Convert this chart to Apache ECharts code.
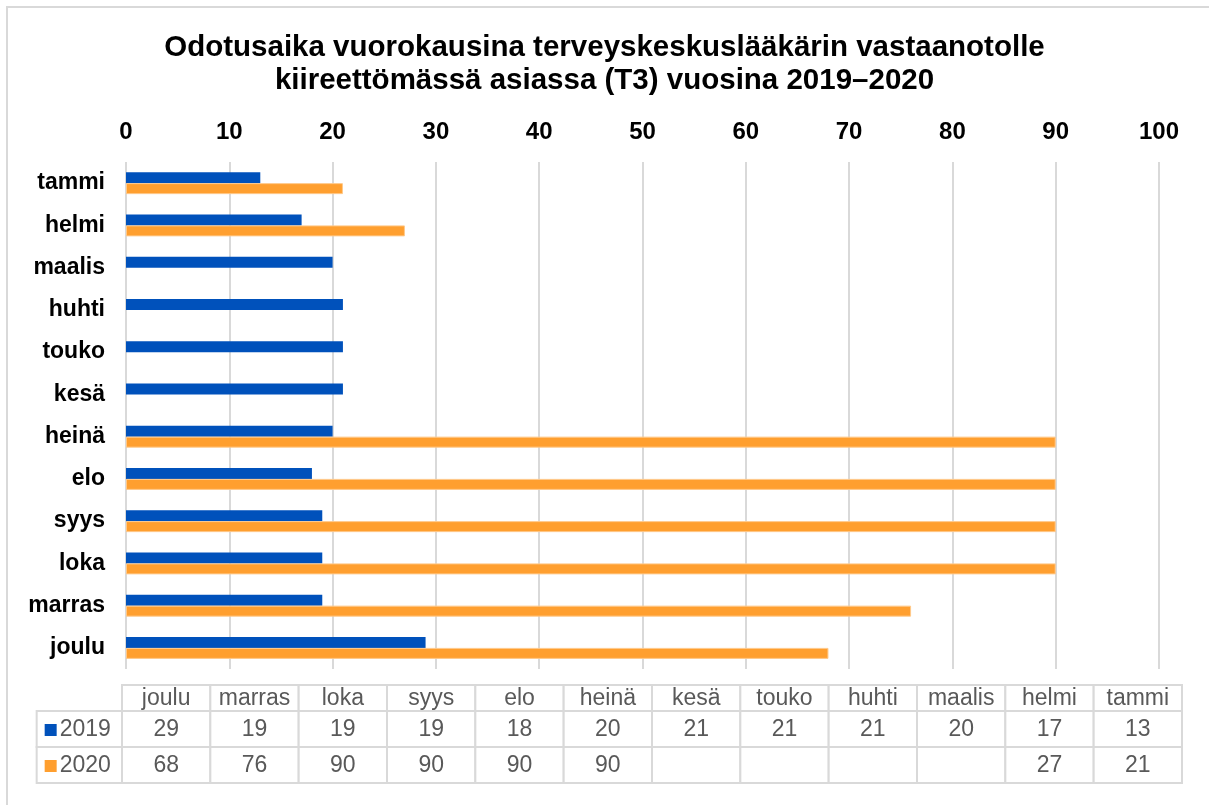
<!DOCTYPE html>
<html>
<head>
<meta charset="utf-8">
<title>Odotusaika T3</title>
<script src="https://cdn.jsdelivr.net/npm/echarts@6/dist/echarts.min.js"></script>
<style>
    html, body { margin: 0; padding: 0; background: #fff; }
    #chart { width: 1209px; height: 805px; }
</style>
</head>
<body>
<div id="chart"></div>
<script>
    // kuukaudet ylhäältä alas
    var months = ['tammi', 'helmi', 'maalis', 'huhti', 'touko', 'kesä', 'heinä', 'elo', 'syys', 'loka', 'marras', 'joulu'];
    var seriesNames = ['2019', '2020'];
    var values2019 = [13, 17, 20, 21, 21, 21, 20, 18, 19, 19, 19, 29];
    var values2020 = [21, 27, null, null, null, null, 90, 90, 90, 90, 76, 68];
    var xTicks = [0, 10, 20, 30, 40, 50, 60, 70, 80, 90, 100];
    var colors = ['#0051BB', '#FF9F2F'];

    // taulukko on käänteisessä järjestyksessä (joulu -> tammi)
    var tableMonths = months.slice().reverse();
    var tableRows = [values2019.slice().reverse(), values2020.slice().reverse()];

    var font = '"Liberation Sans", Arial, sans-serif';
    var border = '#d9d9d9';

    var headerData = tableMonths.map(function (m, i) { return [i, 0]; });
    var rowData = [];
    tableRows.forEach(function (row, r) {
        row.forEach(function (v, c) { rowData.push([c, r]); });
    });

    function cellRect(x, y, w, h) {
        return {
            type: 'rect',
            shape: { x: x, y: y, width: w, height: h },
            style: { fill: '#fff', stroke: border, lineWidth: 2 }
        };
    }
    function cellText(x, y, text) {
        return {
            type: 'text', x: x, y: y,
            style: { text: text, fill: '#595959', font: '23px ' + font, align: 'center', verticalAlign: 'middle' }
        };
    }

    function renderHeader(params, api) {
        var c = api.coord([api.value(0), api.value(1)]);
        var s = api.size([1, 1]);
        return {
            type: 'group',
            children: [
                cellRect(c[0] - s[0] / 2, c[1] - s[1] / 2, s[0], s[1]),
                cellText(c[0], c[1] + 1, tableMonths[api.value(0)])
            ]
        };
    }

    function renderRow(params, api) {
        var col = api.value(0), row = api.value(1);
        var c = api.coord([col, row]);
        var s = api.size([1, 1]);
        var v = tableRows[row][col];
        var children = [
            cellRect(c[0] - s[0] / 2, c[1] - s[1] / 2, s[0], s[1]),
            cellText(c[0], c[1] + 1, v == null ? '' : String(v))
        ];
        if (col === 0) {
            // selitesarake vasemmalla
            var lx = c[0] - s[0] * 1.5 + 3;
            var lw = s[0] - 3;
            children.push(cellRect(lx, c[1] - s[1] / 2, lw, s[1]));
            children.push({
                type: 'rect',
                shape: { x: lx + 8, y: c[1] - 5, width: 12, height: 12 },
                style: { fill: colors[row] }
            });
            children.push({
                type: 'text', x: lx + 23, y: c[1] + 1,
                style: { text: seriesNames[row], fill: '#595959', font: '23px ' + font, align: 'left', verticalAlign: 'middle' }
            });
        }
        return { type: 'group', children: children };
    }

    var chart = echarts.init(document.getElementById('chart'));
    var option = {
        animation: false,
        backgroundColor: '#fff',
        title: {
            text: 'Odotusaika vuorokausina terveyskeskuslääkärin vastaanotolle\nkiireettömässä asiassa (T3) vuosina 2019\u20132020',
            left: 'center',
            top: 26,
            textStyle: { fontFamily: font, fontSize: 29.5, fontWeight: 'bold', color: '#000', lineHeight: 33 }
        },
        graphic: [{
            type: 'rect',
            shape: { x: 7, y: 7, width: 1212, height: 810 },
            style: { fill: 'none', stroke: border, lineWidth: 2 },
            silent: true
        }],
        grid: [
            { left: 126, right: 50, top: 162, height: 507 },
            { left: 122, right: 27, top: 685, height: 26 },
            { left: 122, right: 27, top: 711, height: 72 }
        ],
        xAxis: [
            {
                gridIndex: 0,
                type: 'value',
                position: 'top',
                min: xTicks[0],
                max: xTicks[xTicks.length - 1],
                interval: xTicks[1] - xTicks[0],
                axisLine: { show: false },
                axisTick: { show: false },
                splitLine: { lineStyle: { color: border, width: 2 } },
                axisLabel: { fontFamily: font, fontSize: 24, fontWeight: 'bold', color: '#000', margin: 18 }
            },
            { gridIndex: 1, type: 'category', data: tableMonths, show: false },
            { gridIndex: 2, type: 'category', data: tableMonths, show: false }
        ],
        yAxis: [
            {
                gridIndex: 0,
                type: 'category',
                inverse: true,
                data: months,
                axisLine: { show: false },
                axisTick: { show: false },
                axisLabel: { fontFamily: font, fontSize: 23, fontWeight: 'bold', color: '#000', margin: 21 }
            },
            { gridIndex: 1, type: 'category', data: ['kk'], show: false },
            { gridIndex: 2, type: 'category', data: seriesNames, inverse: true, show: false }
        ],
        series: [
            {
                name: seriesNames[0],
                type: 'bar',
                xAxisIndex: 0, yAxisIndex: 0,
                barWidth: 11,
                barGap: '0%',
                itemStyle: { color: colors[0] },
                data: values2019
            },
            {
                name: seriesNames[1],
                type: 'bar',
                xAxisIndex: 0, yAxisIndex: 0,
                barWidth: 11,
                barGap: '0%',
                itemStyle: { color: colors[1], borderColor: '#FFC98A', borderWidth: 1 },
                data: values2020
            },
            {
                type: 'custom',
                xAxisIndex: 1, yAxisIndex: 1,
                renderItem: renderHeader,
                data: headerData,
                silent: true
            },
            {
                type: 'custom',
                xAxisIndex: 2, yAxisIndex: 2,
                renderItem: renderRow,
                data: rowData,
                clip: false,
                silent: true
            }
        ]
    };
    chart.setOption(option);
</script>
</body>
</html>
